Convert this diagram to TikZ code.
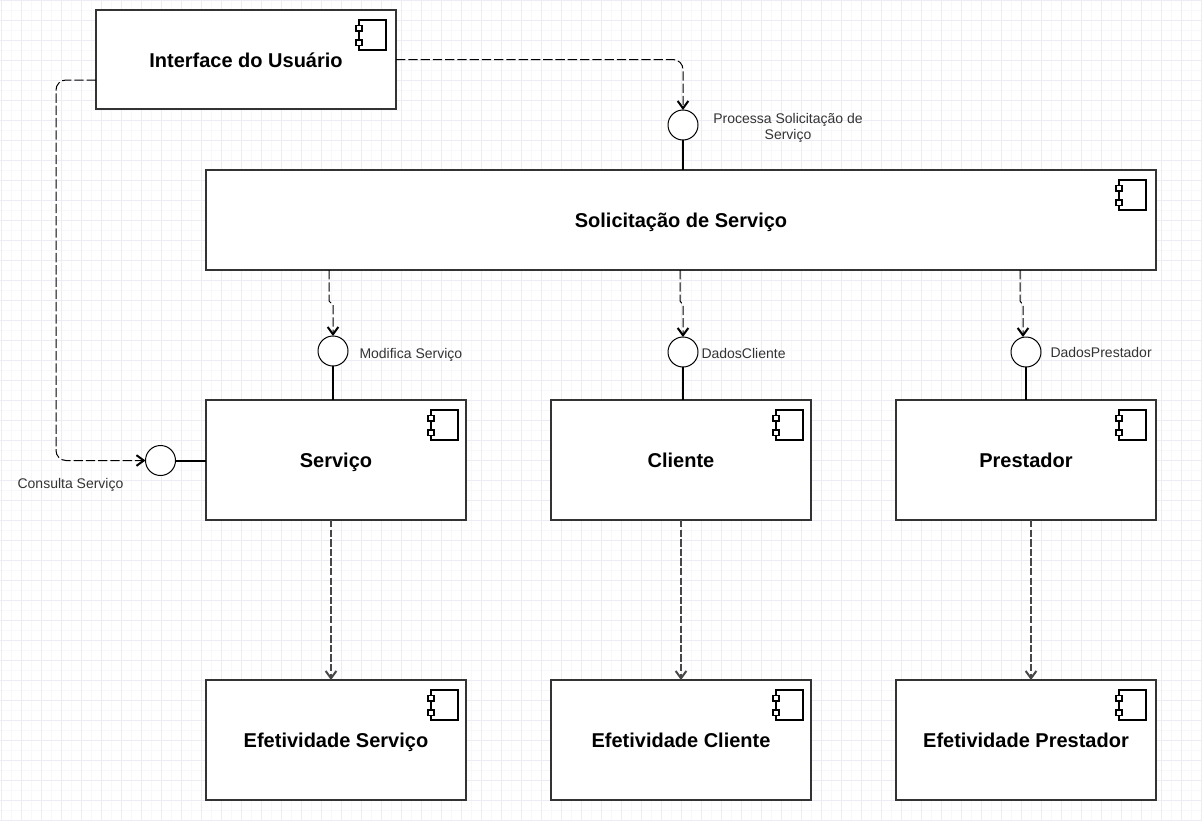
\documentclass[tikz,border=0pt]{standalone}
\usepackage{fontspec}
\setmainfont{Liberation Sans}
\usetikzlibrary{arrows.meta}

\definecolor{gridminor}{RGB}{247,247,252}
\definecolor{gridmajor}{RGB}{236,236,246}
\definecolor{boxline}{RGB}{51,51,51}
\definecolor{labeltext}{RGB}{51,51,51}

\tikzset{
  every picture/.style={line width=0.75pt},
  comp/.style={draw=boxline,line width=1.5pt,fill=white,rectangle,inner sep=0pt,outer sep=0pt,text height=11.5pt,text depth=0pt,font=\fontsize{15}{18}\selectfont\bfseries},
  iface/.style={draw=black,line width=0.75pt,fill=white,circle,minimum size=22.5pt,inner sep=0pt,outer sep=0pt},
  lbl/.style={inner sep=0pt,text=labeltext,font=\fontsize{10.5}{12}\selectfont},
  lblone/.style={lbl,text height=7.5pt,text depth=2pt},
  dep/.style={line width=0.75pt,dash pattern=on 7pt off 2.2pt,-{Straight Barb[length=5.5pt,width=8pt,line width=1.5pt]}},
  deplow/.style={dep,draw=black!72,line width=1.05pt,dash pattern=on 5.5pt off 1.7pt},
  lolly/.style={line width=1.5pt},
  compicon/.pic={
    \draw[line width=1.3pt,fill=white] (-27,0) rectangle (0,-30);
    \draw[line width=1.1pt,fill=white] (-30,-5.5) rectangle (-24,-11);
    \draw[line width=1.1pt,fill=white] (-30,-20) rectangle (-24,-25.5);
  }
}

\begin{document}
\begin{tikzpicture}[x=0.75pt,y=0.75pt,yscale=-1,xscale=1]
\useasboundingbox (0,0) rectangle (1202,821);

%background grid
\foreach \gx in {11,31,...,1201} \draw[gridminor,line width=0.75pt] (\gx,0) -- (\gx,821);
\foreach \gy in {10,30,...,810} \draw[gridminor,line width=0.75pt] (0,\gy) -- (1202,\gy);
\foreach \gx in {1,21,...,1201} \draw[gridmajor,line width=0.75pt] (\gx,0) -- (\gx,821);
\foreach \gy in {0,20,...,820} \draw[gridmajor,line width=0.75pt] (0,\gy) -- (1202,\gy);

%components
\node[comp,minimum width=225pt,minimum height=74.5pt] (compUi) at (246,59.5) {Interface do Usuário};
\node[comp,minimum width=712.5pt,minimum height=75pt] (compSol) at (681,220) {Solicitação de Serviço};
\node[comp,minimum width=195pt,minimum height=90pt] (compServ) at (336,460) {Serviço};
\node[comp,minimum width=195pt,minimum height=90pt] (compCli) at (681,460) {Cliente};
\node[comp,minimum width=195pt,minimum height=90pt] (compPrest) at (1026,460) {Prestador};
\node[comp,minimum width=195pt,minimum height=90pt] (compEfServ) at (336,740) {Efetividade Serviço};
\node[comp,minimum width=195pt,minimum height=90pt] (compEfCli) at (681,740) {Efetividade Cliente};
\node[comp,minimum width=195pt,minimum height=90pt] (compEfPrest) at (1026,740) {Efetividade Prestador};

%component icons
\foreach \c in {compUi,compSol,compPrest,compEfPrest}
  \path (\c.north east) ++(-10,10) pic {compicon};
\foreach \c in {compServ,compCli,compEfServ,compEfCli}
  \path (\c.north east) ++(-8,10) pic {compicon};

%provided interfaces
\node[iface] (ifProc) at (683,125) {};
\node[iface] (ifMod) at (333,351) {};
\node[iface] (ifDadCli) at (683,352) {};
\node[iface] (ifDadPrest) at (1026,352) {};
\node[iface] (ifCons) at (160.5,460.5) {};

%interface labels
\node[lbl,align=center] (lblProc) at (788,127.5) {Processa Solicitação de\\Serviço};
\node[lblone,anchor=west] (lblMod) at (359,355.3) {Modifica Serviço};
\node[lblone,anchor=west] (lblDadCli) at (701,355.3) {DadosCliente};
\node[lblone,anchor=west] (lblDadPrest) at (1050,354.3) {DadosPrestador};
\node[lblone] (lblCons) at (70.5,485.3) {Consulta Serviço};

%points where connectors leave the boxes
\coordinate (uiLeft) at (96,80);
\coordinate (solA) at (329,270);
\coordinate (solB) at (680,270);
\coordinate (solC) at (1020,270);
\coordinate (prestIn) at (1023,337);
\coordinate (servTop) at (333,400);
\coordinate (cliTop) at (683,400);
\coordinate (prestTop) at (1026,400);
\coordinate (solTop) at (683,170);
\coordinate (servLeft) at (206,460.5);
\coordinate (servBot) at (331,520);
\coordinate (cliBot) at (681,520);
\coordinate (prestBot) at (1031,520);
\coordinate (efServTop) at (331,680);
\coordinate (efCliTop) at (681,680);
\coordinate (efPrestTop) at (1031,680);

%dependencies
\draw[dep,rounded corners=7.5pt] (compUi.east) -| (ifProc.north);
\draw[dep,rounded corners=7.5pt] (uiLeft) -- (56,80) -- (56,460.5) -- (ifCons.west);
\draw[dep] (solA) -- (329,301) -- (333,305) -- (ifMod.north);
\draw[dep] (solB) -- (680,301) -- (683,305) -- (ifDadCli.north);
\draw[dep] (solC) -- (1020,301) -- (1023,305) -- (prestIn);
\draw[deplow] (servBot) -- (efServTop);
\draw[deplow] (cliBot) -- (efCliTop);
\draw[deplow] (prestBot) -- (efPrestTop);

%lollipop sticks
\draw[lolly] (ifProc.south) -- (solTop);
\draw[lolly] (ifMod.south) -- (servTop);
\draw[lolly] (ifDadCli.south) -- (cliTop);
\draw[lolly] (ifDadPrest.south) -- (prestTop);
\draw[lolly] (ifCons.east) -- (servLeft);
\end{tikzpicture}
\end{document}
